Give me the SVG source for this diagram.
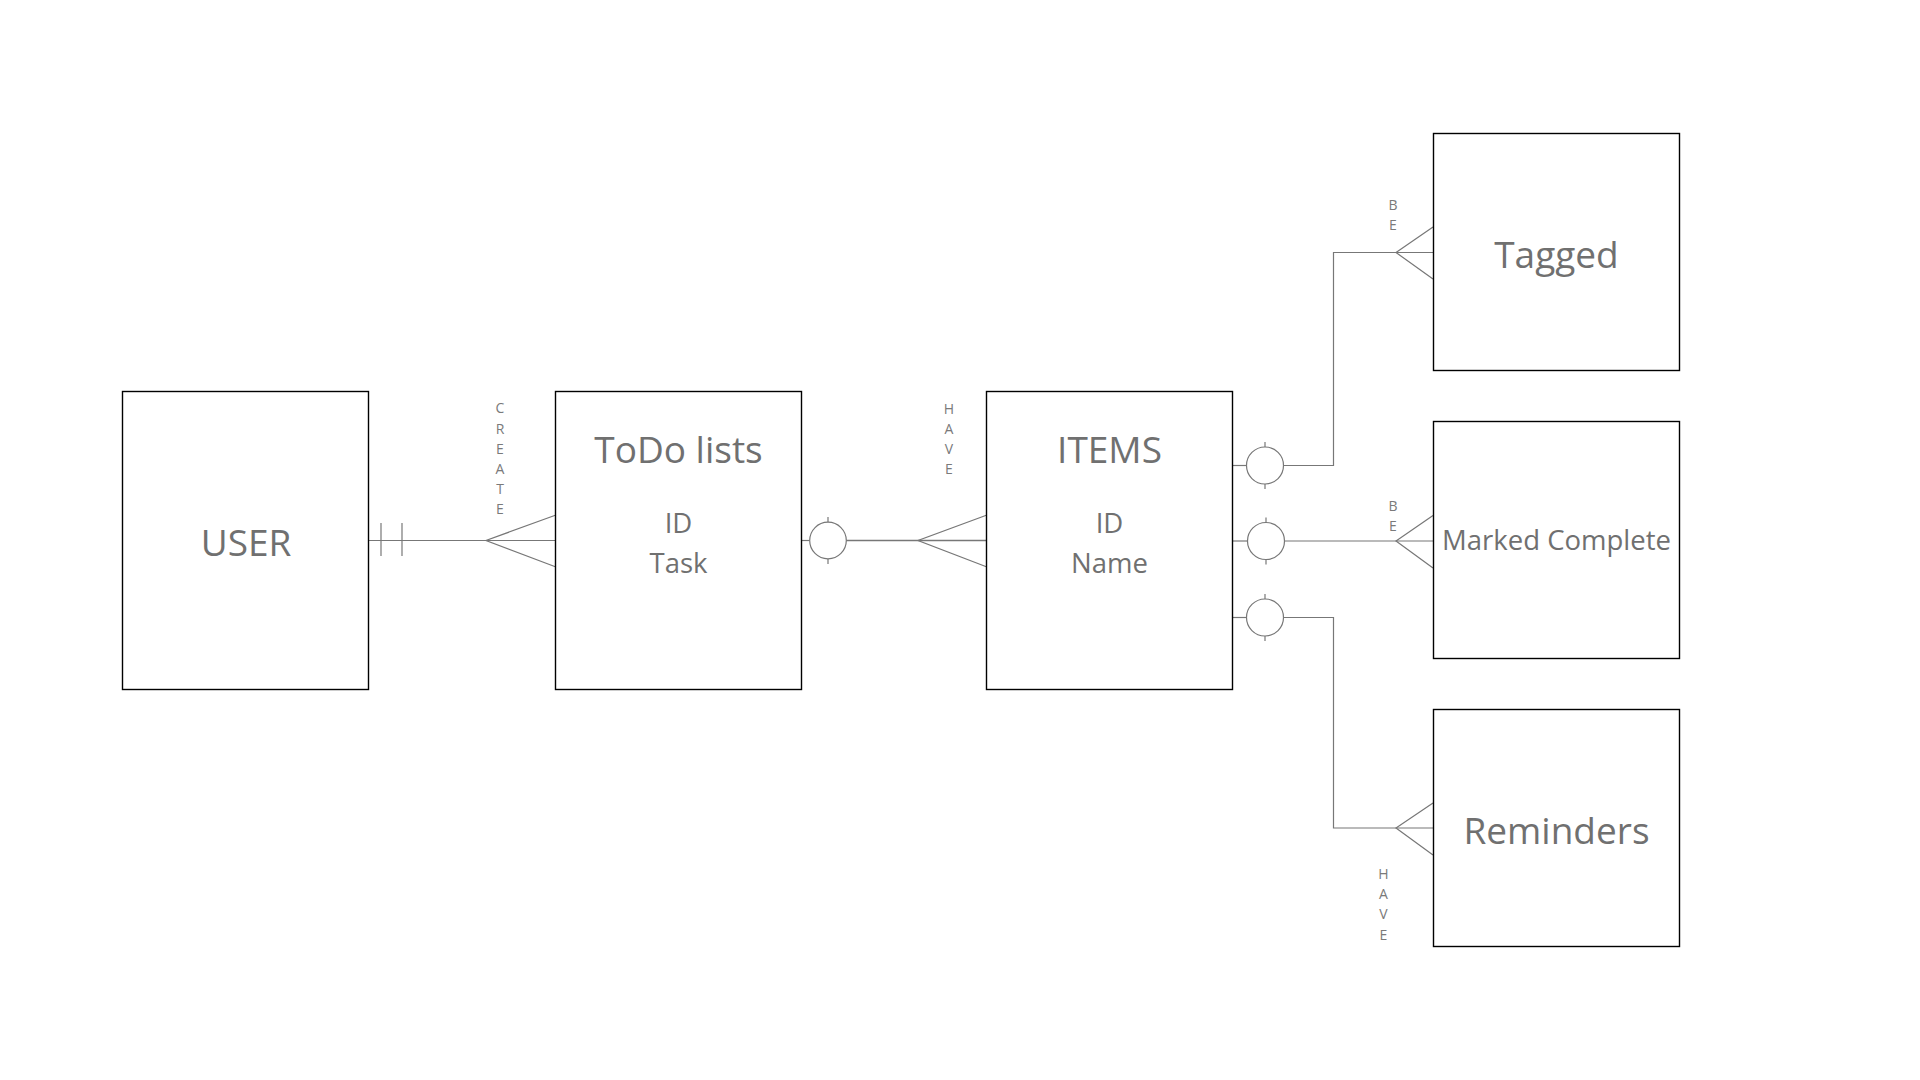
<svg xmlns="http://www.w3.org/2000/svg" width="1920" height="1080" viewBox="0 0 1920 1080">
<style>
.box{fill:#fff;stroke:#000;stroke-width:1.4}
.t{font-family:"Open Sans","Noto Sans","Liberation Sans",sans-serif;fill:#707070;text-anchor:middle}
.big{font-size:37px}
.mid{font-size:27.5px}
.lbl{font-family:"Open Sans","Noto Sans","Liberation Sans",sans-serif;fill:#7a7a7a;text-anchor:middle;font-size:14px}
.c{fill:none;stroke:#777;stroke-width:1.2}
</style>
<rect width="1920" height="1080" fill="#fff"/>
<g id="connectors">
  <!-- USER - ToDo -->
  <line class="c" x1="368" y1="540.5" x2="556" y2="540.5"/>
  <line class="c" x1="381" y1="523" x2="381" y2="556"/>
  <line class="c" x1="402" y1="523" x2="402" y2="556"/>
  <polyline class="c" points="556,515 486,540.5 556,567"/>
  <g class="lbl"><text x="500" y="413">C</text><text x="500" y="434">R</text><text x="500" y="454">E</text><text x="500" y="474">A</text><text x="500" y="494">T</text><text x="500" y="514">E</text></g>
  <!-- ToDo - ITEMS -->
  <line class="c" x1="801" y1="540.5" x2="809.5" y2="540.5"/>
  <circle class="c" cx="828" cy="540.5" r="18.3"/>
  <line class="c" x1="828" y1="517" x2="828" y2="522"/>
  <line class="c" x1="828" y1="559" x2="828" y2="564"/>
  <line class="c" x1="846.3" y1="540.5" x2="987" y2="540.5" style="stroke-width:1.6"/>
  <polyline class="c" points="987,515 918,540.5 987,567"/>
  <g class="lbl"><text x="949" y="414">H</text><text x="949" y="434">A</text><text x="949" y="454">V</text><text x="949" y="474">E</text></g>
  <!-- ITEMS - Tagged -->
  <line class="c" x1="1233" y1="465.5" x2="1246.5" y2="465.5"/>
  <circle class="c" cx="1265" cy="465.5" r="18.5"/>
  <line class="c" x1="1265" y1="442" x2="1265" y2="447"/>
  <line class="c" x1="1265" y1="484" x2="1265" y2="489"/>
  <polyline class="c" points="1283.5,465.5 1333.5,465.5 1333.5,252.5 1433,252.5"/>
  <polyline class="c" points="1433,227 1396,252.5 1433,279"/>
  <g class="lbl"><text x="1393" y="210">B</text><text x="1393" y="230">E</text></g>
  <!-- ITEMS - Marked Complete -->
  <line class="c" x1="1233" y1="541" x2="1247.5" y2="541"/>
  <circle class="c" cx="1266" cy="541" r="18.5"/>
  <line class="c" x1="1266" y1="517.5" x2="1266" y2="522.5"/>
  <line class="c" x1="1266" y1="559.5" x2="1266" y2="564.5"/>
  <line class="c" x1="1284.5" y1="541" x2="1433" y2="541"/>
  <polyline class="c" points="1433,515.5 1396,541 1433,568"/>
  <g class="lbl"><text x="1393" y="511">B</text><text x="1393" y="531">E</text></g>
  <!-- ITEMS - Reminders -->
  <line class="c" x1="1233" y1="617.5" x2="1246.5" y2="617.5"/>
  <circle class="c" cx="1265" cy="617.5" r="18.5"/>
  <line class="c" x1="1265" y1="594" x2="1265" y2="599"/>
  <line class="c" x1="1265" y1="636" x2="1265" y2="641"/>
  <polyline class="c" points="1283.5,617.5 1333.5,617.5 1333.5,828 1433,828"/>
  <polyline class="c" points="1433,803 1396,828 1433,855"/>
  <g class="lbl"><text x="1383.5" y="879">H</text><text x="1383.5" y="899">A</text><text x="1383.5" y="919">V</text><text x="1383.5" y="940">E</text></g>
</g>
<g id="user">
  <rect class="box" x="122.5" y="391.5" width="246" height="298"/>
  <text class="t big" x="246" y="556">USER</text>
</g>
<g id="todo">
  <rect class="box" x="555.5" y="391.5" width="246" height="298"/>
  <text class="t big" x="678.5" y="463">ToDo lists</text>
  <text class="t mid" x="678.5" y="532.5">ID</text>
  <text class="t mid" x="678.5" y="572.5">Task</text>
</g>
<g id="items">
  <rect class="box" x="986.5" y="391.5" width="246" height="298"/>
  <text class="t big" x="1109.5" y="463">ITEMS</text>
  <text class="t mid" x="1109.5" y="532.5">ID</text>
  <text class="t mid" x="1109.5" y="572.5">Name</text>
</g>
<g id="tagged">
  <rect class="box" x="1433.5" y="133.5" width="246" height="237"/>
  <text class="t big" x="1556.5" y="268">Tagged</text>
</g>
<g id="marked">
  <rect class="box" x="1433.5" y="421.5" width="246" height="237"/>
  <text class="t mid" x="1556.5" y="550">Marked Complete</text>
</g>
<g id="reminders">
  <rect class="box" x="1433.5" y="709.5" width="246" height="237"/>
  <text class="t big" x="1556.5" y="844">Reminders</text>
</g>
</svg>
